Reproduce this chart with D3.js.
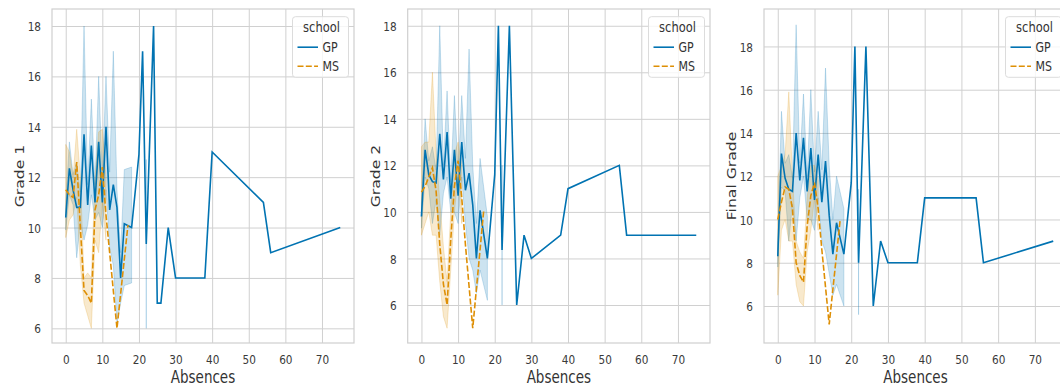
<!DOCTYPE html>
<html>
<head>
<meta charset="utf-8">
<script src="https://cdn.jsdelivr.net/npm/d3@7"></script>
<style>
  body { margin: 0; background: #fff; }
  svg { display: block; font-family: "DejaVu Sans", sans-serif; }
</style>
</head>
<body>
<svg id="chart" width="1060" height="386"></svg>
<script>
// absences values that occur for each school
var gpAbsences = [0, 1, 2, 3, 4, 5, 6, 7, 8, 9, 10, 11, 12, 13, 14, 15, 16, 18, 20, 21, 22, 24, 25, 26, 28, 30, 38, 40, 54, 56, 75];
var msAbsences = [0, 1, 2, 3, 4, 5, 6, 7, 8, 9, 10, 11, 12, 14, 17];

// Grade 1 (G1) mean and 95% CI, null = no band
var gpG1 = [10.4, 12.35, 11.5, 10.8, 10.8, 13.7, 10.9, 13.25, 11.0, 13.4, 11.0, 14.0, 10.7, 11.7, 10.8, 8.0, 10.15, 10.0, 12.9, 17.0, 9.35, 18.0, 7.0, 7.0, 10.0, 8.0, 8.0, 13.0, 11.0, 9.0, 10.0];
var gpG1Lo = [9.9, 11.3, 10.9, 8.8, 10.2, 9.5, 10.1, 11.3, 10.3, 10.6, 10.0, 11.5, 9.2, 8.5, 6.2, 7.0, 7.7, 7.8, null, null, 6.0, null, null, null, null, null, null, null, null, null, null];
var gpG1Hi = [11.0, 13.4, 12.1, 12.6, 11.4, 18.0, 11.7, 15.1, 11.7, 16.0, 12.0, 16.0, 12.2, 17.0, 11.5, 9.0, 12.3, 12.4, null, null, 12.7, null, null, null, null, null, null, null, null, null, null];
var msG1 = [11.5, 11.3, 11.2, 12.6, 10.0, 7.5, 7.3, 7.0, 10.7, 11.3, 12.4, 10.5, 9.0, 6.0, 10.1];
var msG1Lo = [9.6, 10.3, 10.5, 11.2, 8.5, 7.0, 6.5, 6.0, 9.5, 9.0, 11.0, 9.5, null, null, null];
var msG1Hi = [13.3, 13.0, 12.0, 13.9, 12.0, 8.0, 8.2, 8.0, 12.0, 13.8, 13.9, 12.0, null, null, null];

// Grade 2 (G2)
var gpG2 = [9.8, 12.67, 11.6, 11.3, 11.25, 13.36, 11.4, 13.43, 10.57, 12.67, 10.7, 13.0, 10.93, 11.67, 10.3, 8.0, 10.07, 8.0, 11.6, 18.0, 8.36, 18.0, 12.0, 6.0, 9.0, 8.0, 9.0, 11.0, 12.0, 9.0, 9.0];
var gpG2Lo = [9.3, 11.5, 11.0, 9.5, 10.5, 9.0, 10.8, 11.5, 10.0, 10.0, 9.5, 11.5, 9.5, 8.0, 7.5, 6.5, 7.5, 6.2, null, null, 6.0, null, null, null, null, null, null, null, null, null, null];
var gpG2Hi = [10.4, 14.0, 12.2, 12.8, 11.8, 18.0, 12.0, 15.2, 11.3, 15.0, 11.7, 15.0, 12.3, 17.0, 12.0, 9.5, 12.3, 9.8, null, null, 12.0, null, null, null, null, null, null, null, null, null, null];
var msG2 = [10.85, 11.1, 11.5, 11.9, 10.9, 8.6, 6.9, 6.0, 8.8, 11.1, 12.2, 10.6, 8.6, 5.0, 10.07];
var msG2Lo = [9.0, 9.5, 10.0, 9.0, 9.0, 7.0, 5.5, 5.0, 7.5, 10.0, 11.5, 9.5, null, null, null];
var msG2Hi = [12.8, 13.0, 13.0, 16.0, 12.5, 10.5, 8.5, 7.0, 10.0, 12.5, 13.0, 12.0, null, null, null];

// Final grade (G3)
var gpG3 = [8.3, 13.05, 11.9, 11.4, 11.3, 14.0, 11.8, 13.77, 11.3, 13.3, 10.9, 13.0, 10.8, 12.7, 10.2, 8.4, 9.85, 8.4, 11.7, 18.0, 8.0, 18.0, 12.0, 6.0, 9.0, 8.0, 8.0, 11.0, 11.0, 8.0, 9.0];
var gpG3Lo = [7.8, 11.5, 11.3, 9.0, 10.7, 9.0, 11.0, 12.0, 10.0, 10.0, 9.5, 11.0, 9.0, 8.5, 7.5, 6.5, 7.0, 6.0, null, null, 5.6, null, null, null, null, null, null, null, null, null, null];
var gpG3Hi = [8.9, 15.0, 12.6, 13.0, 11.9, 19.0, 12.6, 15.8, 12.0, 16.0, 12.2, 15.0, 12.3, 17.0, 12.5, 10.0, 12.0, 10.5, null, null, 11.4, null, null, null, null, null, null, null, null, null, null];
var msG3 = [10.0, 10.8, 11.5, 11.4, 10.5, 8.0, 7.4, 7.1, 9.7, 11.1, 11.7, 10.5, 8.6, 5.15, 10.0];
var msG3Lo = [6.5, 9.5, 10.0, 9.0, 9.0, 7.0, 6.2, 6.0, 8.5, 9.5, 11.0, 9.5, null, null, null];
var msG3Hi = [12.0, 12.5, 13.0, 15.9, 12.0, 9.0, 8.5, 8.2, 11.0, 12.5, 12.5, 11.8, null, null, null];

var xTicks = [0, 10, 20, 30, 40, 50, 60, 70];
var yTicks = [6, 8, 10, 12, 14, 16, 18];
var schools = ["GP", "MS"];
var xLabel = "Absences";

var colors = { GP: "#0173b2", MS: "#de8f05" };
var dashes = { GP: null, MS: "6,2.3" };
var stretch = 1.25; // the picture's text is taller than wide

var panels = [
    { label: "Grade 1", left: 52, right: 354, yDomain: [5.417, 18.675],
      series: { GP: [gpG1, gpG1Lo, gpG1Hi], MS: [msG1, msG1Lo, msG1Hi] } },
    { label: "Grade 2", left: 407.7, right: 710, yDomain: [4.367, 18.72],
      series: { GP: [gpG2, gpG2Lo, gpG2Hi], MS: [msG2, msG2Lo, msG2Hi] } },
    { label: "Final Grade", left: 764, right: 1067, yDomain: [4.29, 19.73],
      series: { GP: [gpG3, gpG3Lo, gpG3Hi], MS: [msG3, msG3Lo, msG3Hi] } }
];
var plotTop = 9, plotBottom = 343;

var svg = d3.select("#chart");

panels.forEach(function (p) {
    var x = d3.scaleLinear().domain([-3.75, 78.75]).range([p.left, p.right]);
    var y = d3.scaleLinear().domain(p.yDomain).range([plotBottom, plotTop]);
    var g = svg.append("g");

    // grid + tick labels through the axes
    var xAxis = g.append("g")
        .attr("transform", "translate(0," + plotBottom + ")")
        .call(d3.axisBottom(x).tickValues(xTicks).tickSize(-(plotBottom - plotTop)).tickFormat(d3.format("d")));
    xAxis.select(".domain").remove();
    xAxis.selectAll("line").attr("stroke", "#d0d0d0").attr("stroke-width", 1);
    xAxis.selectAll("text")
        .attr("y", 0).attr("dy", "0.71em")
        .attr("transform", "translate(0,12) scale(1," + stretch + ")")
        .attr("fill", "#3a3a3a").style("font-size", "10.5px").style("font-family", "DejaVu Sans");

    var yAxis = g.append("g")
        .attr("transform", "translate(" + p.left + ",0)")
        .call(d3.axisLeft(y).tickValues(yTicks).tickSize(-(p.right - p.left)).tickFormat(d3.format("d")));
    yAxis.select(".domain").remove();
    yAxis.selectAll("line").attr("stroke", "#d0d0d0").attr("stroke-width", 1);
    yAxis.selectAll("text")
        .attr("x", -11).attr("dy", "0.35em")
        .attr("transform", "scale(1," + stretch + ")")
        .attr("y", 0)
        .attr("fill", "#3a3a3a").style("font-size", "10.5px").style("font-family", "DejaVu Sans");

    g.append("rect")
        .attr("x", p.left).attr("y", plotTop)
        .attr("width", p.right - p.left).attr("height", plotBottom - plotTop)
        .attr("fill", "none").attr("stroke", "#cfcfcf").attr("stroke-width", 1.2);

    var clipId = "clip" + Math.round(p.left);
    g.append("clipPath").attr("id", clipId).append("rect")
        .attr("x", p.left).attr("y", plotTop).attr("width", p.right - p.left).attr("height", plotBottom - plotTop);
    var plot = g.append("g").attr("clip-path", "url(#" + clipId + ")");

    schools.forEach(function (s) {
        var xs = s === "GP" ? gpAbsences : msAbsences;
        var vals = p.series[s];
        var rows = xs.map(function (a, i) {
            return { a: a, v: vals[0][i], lo: vals[1][i], hi: vals[2][i] };
        });

        var band = d3.area()
            .defined(function (d) { return d.lo !== null; })
            .x(function (d) { return x(d.a); })
            .y0(function (d) { return y(d.lo); })
            .y1(function (d) { return y(d.hi); });
        plot.append("path")
            .attr("d", band(rows))
            .attr("fill", colors[s]).attr("fill-opacity", 0.2)
            .attr("stroke", colors[s]).attr("stroke-opacity", 0.2).attr("stroke-width", 1);
    });

    schools.forEach(function (s) {
        var xs = s === "GP" ? gpAbsences : msAbsences;
        var vals = p.series[s][0];
        var line = d3.line()
            .x(function (d, i) { return x(xs[i]); })
            .y(function (d) { return y(d); });
        plot.append("path")
            .attr("d", line(vals))
            .attr("fill", "none")
            .attr("stroke", colors[s]).attr("stroke-width", 1.6)
            .attr("stroke-dasharray", dashes[s]);
    });

    // axis labels
    g.append("text")
        .attr("transform", "translate(" + ((p.left + p.right) / 2) + ",382.5) scale(1," + stretch + ")")
        .attr("text-anchor", "middle")
        .attr("fill", "#333").style("font-size", "13.5px")
        .text(xLabel);
    g.append("text")
        .attr("transform", "translate(" + (p.left - 28) + "," + ((plotTop + plotBottom) / 2) + ") scale(1," + stretch + ") rotate(-90)")
        .attr("text-anchor", "middle")
        .attr("fill", "#333").style("font-size", "12.5px")
        .text(p.label);

    // legend
    var lw = 56, lx = p.right - 5.5 - lw, ly = 16.7;
    var leg = g.append("g");
    leg.append("rect")
        .attr("x", lx).attr("y", ly).attr("width", lw).attr("height", 60.6)
        .attr("rx", 3).attr("fill", "#fff").attr("fill-opacity", 0.8)
        .attr("stroke", "#dcdcdc").attr("stroke-width", 1);
    leg.append("text")
        .attr("transform", "translate(" + (lx + lw / 2 + 1) + "," + (ly + 15) + ") scale(1," + stretch + ")")
        .attr("text-anchor", "middle").attr("fill", "#333").style("font-size", "11.5px")
        .text("school");
    schools.forEach(function (s, i) {
        var yy = ly + 30.5 + i * 19;
        leg.append("line")
            .attr("x1", lx + 5).attr("x2", lx + 25.5).attr("y1", yy).attr("y2", yy)
            .attr("stroke", colors[s]).attr("stroke-width", 1.6)
            .attr("stroke-dasharray", dashes[s]);
        leg.append("text")
            .attr("transform", "translate(" + (lx + 30) + "," + yy + ") scale(1," + stretch + ")")
            .attr("dy", "0.35em").attr("fill", "#333").style("font-size", "11px")
            .text(s);
    });
});
</script>
</body>
</html>
